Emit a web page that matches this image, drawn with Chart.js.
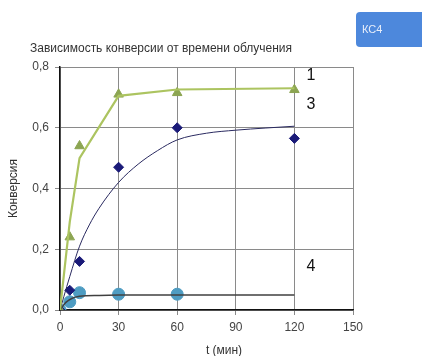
<!DOCTYPE html>
<html><head><meta charset="utf-8">
<script src="https://cdn.jsdelivr.net/npm/chart.js@4"></script>
<style>html,body{margin:0;padding:0;background:#fff;}canvas{display:block;}</style>
</head><body>
<canvas id="c" width="422" height="356"></canvas>
<script>
const chartTitle = "Зависимость конверсии от времени облучения";
const xTitle = "t (мин)";
const yTitle = "Конверсия";
const buttonText = "КС4";
const seriesLabels = ["1", "3", "4"];
const xTicks = [0, 30, 60, 90, 120, 150];
const yTicks = [0, 0.2, 0.4, 0.6, 0.8];

// measured points
const t1 = [0, 5, 10, 30, 60, 120];
const s1 = [0, 0.24, 0.54, 0.71, 0.715, 0.725];
const t3 = [0, 5, 10, 30, 60, 120];
const s3 = [0, 0.065, 0.16, 0.47, 0.60, 0.565];
const t4 = [0, 5, 10, 30, 60];
const s4 = [0, 0.027, 0.057, 0.052, 0.052];

// curves drawn through the series
const f1t = [0, 5, 10, 30, 60, 120];
const f1 = [0, 0.29, 0.50, 0.705, 0.726, 0.73];
const f3t = [0, 2, 5, 10, 15, 20, 30, 40, 50, 60, 75, 90, 105, 120];
const f3 = [0, 0.045, 0.11, 0.21, 0.28, 0.335, 0.42, 0.48, 0.525, 0.56, 0.582, 0.592, 0.599, 0.605];
const f4t = [0, 3, 6, 10, 20, 30, 60, 120];
const f4 = [0, 0.025, 0.038, 0.045, 0.048, 0.049, 0.049, 0.049];

const pts = (xs, ys) => xs.map((x, i) => ({x: x, y: ys[i]}));
const FONT = '"Liberation Sans", Arial, sans-serif';

const overlay = {
  id: 'overlay',
  afterDraw(chart) {
    const ctx = chart.ctx;
    const ys = chart.scales.y;
    ctx.save();
    ctx.fillStyle = '#333';
    ctx.font = '12px ' + FONT;
    ctx.textAlign = 'left';
    ctx.textBaseline = 'middle';
    ctx.fillText(chartTitle, 30, 49);
    // button
    ctx.fillStyle = '#4d88dc';
    const bx = 356, by = 12, bw = 80, bh = 35, r = 4;
    ctx.beginPath();
    ctx.moveTo(bx + r, by); ctx.lineTo(bx + bw, by); ctx.lineTo(bx + bw, by + bh);
    ctx.lineTo(bx + r, by + bh); ctx.arcTo(bx, by + bh, bx, by + bh - r, r);
    ctx.lineTo(bx, by + r); ctx.arcTo(bx, by, bx + r, by, r); ctx.closePath();
    ctx.fill();
    ctx.fillStyle = '#e8eefa';
    ctx.font = '11px ' + FONT;
    ctx.fillText(buttonText, 362, 30);
    // series labels
    ctx.fillStyle = '#111';
    ctx.font = '16px ' + FONT;
    ctx.textAlign = 'center';
    ctx.fillText(seriesLabels[0], 311, 76);
    ctx.fillText(seriesLabels[1], 311, 105);
    ctx.fillText(seriesLabels[2], 311, 267);
    // axis titles
    ctx.fillStyle = '#333';
    ctx.font = '12px ' + FONT;
    ctx.fillText(xTitle, 224, 351);
    ctx.translate(14, (ys.top + ys.bottom) / 2);
    ctx.rotate(-Math.PI / 2);
    ctx.fillText(yTitle, 0, 0);
    ctx.restore();
  }
};

new Chart(document.getElementById('c'), {
  type: 'scatter',
  data: {
    datasets: [
      {data: pts(f1t, f1), showLine: true, borderColor: 'rgb(172,196,96)', borderWidth: 2.2, pointRadius: 0, tension: 0},
      {data: pts(f3t, f3), showLine: true, borderColor: '#2a2a60', borderWidth: 1, pointRadius: 0, cubicInterpolationMode: 'monotone'},
      {data: pts(f4t, f4), showLine: true, borderColor: '#404040', borderWidth: 1.5, pointRadius: 0, cubicInterpolationMode: 'monotone'},
      {data: pts(t1, s1), pointStyle: 'triangle', pointRadius: 5.5, backgroundColor: 'rgb(140,165,82)', borderColor: 'rgb(140,165,82)', borderWidth: 1},
      {data: pts(t3, s3), pointStyle: 'rectRot', pointRadius: 5, backgroundColor: '#1a1a78', borderColor: '#1a1a78', borderWidth: 1},
      {data: pts(t4, s4), pointStyle: 'circle', pointRadius: 6, backgroundColor: '#4e9cc2', borderColor: '#4e9cc2', borderWidth: 1}
    ]
  },
  options: {
    responsive: false,
    animation: false,
    layout: {padding: {top: 67, right: 69, left: 0, bottom: 0}},
    plugins: {legend: {display: false}, tooltip: {enabled: false}, title: {display: false}},
    scales: {
      x: {
        type: 'linear', min: 0, max: 150,
        afterBuildTicks: s => { s.ticks = xTicks.map(v => ({value: v})); },
        afterFit: s => { s.height = 46; },
        grid: {color: '#8a8a8a', lineWidth: 1, tickLength: 5},
        border: {color: '#111', width: 1.5},
        ticks: {color: '#444', font: {size: 12, family: FONT}, padding: 5, maxRotation: 0}
      },
      y: {
        type: 'linear', min: 0, max: 0.8,
        afterBuildTicks: s => { s.ticks = yTicks.map(v => ({value: v})); },
        afterFit: s => { s.width = 60; },
        grid: {color: '#8a8a8a', lineWidth: 1, tickLength: 5},
        border: {color: '#111', width: 1.5},
        ticks: {color: '#444', font: {size: 12, family: FONT}, padding: 6,
          callback: v => v.toFixed(1).replace('.', ',')}
      }
    }
  },
  plugins: [overlay]
});
</script>
</body></html>
